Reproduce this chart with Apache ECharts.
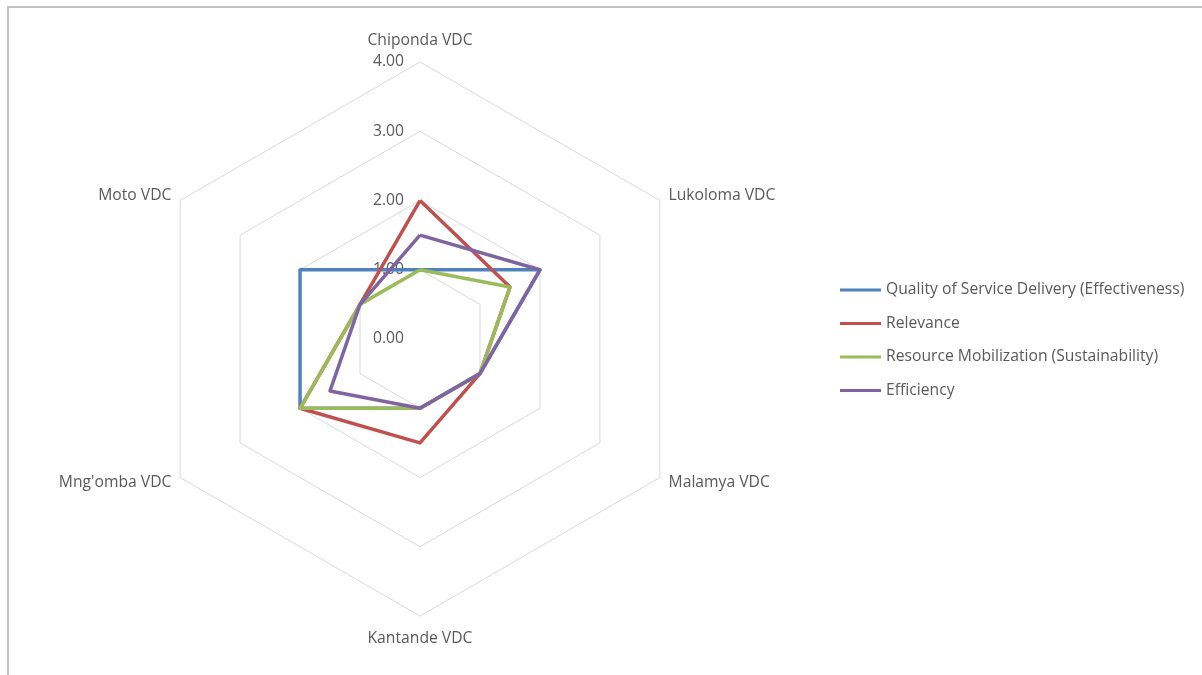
<!DOCTYPE html>
<html>
<head>
<meta charset="utf-8">
<title>VDC Assessment Radar</title>
<script src="https://cdn.jsdelivr.net/npm/echarts@6/dist/echarts.min.js"></script>
<style>
  html, body { margin: 0; padding: 0; background: #ffffff; }
  #chart { width: 1202px; height: 675px; }
</style>
</head>
<body>
<div id="chart"></div>
<script>
// Villages, listed clockwise from the top
const categories = ['Chiponda VDC', 'Lukoloma VDC', 'Malamya VDC', 'Kantande VDC', "Mng'omba VDC", 'Moto VDC'];

const seriesNames = [
  'Quality of Service Delivery (Effectiveness)',
  'Relevance',
  'Resource Mobilization (Sustainability)',
  'Efficiency'
];

// Scores per village, same order as categories
const qualityScores    = [1.0, 2.0, 1.0, 1.0, 2.0, 2.0];
const relevanceScores  = [2.0, 1.5, 1.0, 1.5, 2.0, 1.0];
const resourceScores   = [1.0, 1.5, 1.0, 1.0, 2.0, 1.0];
const efficiencyScores = [1.5, 2.0, 1.0, 1.0, 1.5, 1.0];

const scaleMin = 0;
const scaleMax = 4;
const tickLabels = ['0.00', '1.00', '2.00', '3.00', '4.00'];

const palette = ['#4F81BD', '#C0504D', '#9BBB59', '#8064A2'];
const textColor = '#595959';
const fontFamily = '"Open Sans", "Noto Sans", sans-serif';
const fontSize = 15.7;

// ECharts lays radar axes out counter-clockwise; walk the categories in reverse
// after the first so they read clockwise around the web.
const order = [0, 5, 4, 3, 2, 1];

const indicators = order.map(function (idx, k) {
  const ind = { name: categories[idx], min: scaleMin, max: scaleMax };
  // the top and bottom names sit a little further out than the slanted ones
  ind.nameGap = k === 0 ? 13 : (k === 3 ? 15 : 10);
  if (k === 0) {
    ind.axisLabel = {
      show: true,
      margin: 16,
      padding: [4, 0, 0, 0],
      color: textColor,
      fontSize: fontSize,
      fontFamily: fontFamily,
      formatter: function (v) {
        const i = Math.round((v - scaleMin) / ((scaleMax - scaleMin) / (tickLabels.length - 1)));
        return tickLabels[i] !== undefined ? tickLabels[i] : v.toFixed(2);
      }
    };
  }
  return ind;
});

const allScores = [qualityScores, relevanceScores, resourceScores, efficiencyScores];

const chart = echarts.init(document.getElementById('chart'), null, { renderer: 'canvas' });

chart.setOption({
  animation: false,
  backgroundColor: '#ffffff',
  color: palette,
  graphic: [
    // thin grey frame along the top and left edges
    { type: 'line', shape: { x1: 7, y1: 7, x2: 1202, y2: 7 }, style: { stroke: '#c3c3c3', lineWidth: 2 }, z: 100 },
    { type: 'line', shape: { x1: 8, y1: 6, x2: 8, y2: 675 }, style: { stroke: '#c3c3c3', lineWidth: 2 }, z: 100 }
  ],
  legend: {
    orient: 'vertical',
    left: 835,
    top: 277,
    icon: 'rect',
    itemWidth: 41,
    itemHeight: 3,
    itemGap: 17.5,
    data: seriesNames,
    textStyle: {
      color: textColor,
      fontSize: fontSize,
      fontFamily: fontFamily,
      lineHeight: 16
    }
  },
  radar: {
    center: [420, 339],
    radius: 277,
    startAngle: 90,
    splitNumber: 4,
    shape: 'polygon',
    indicator: indicators,
    axisName: {
      color: textColor,
      fontSize: fontSize,
      fontFamily: fontFamily
    },
    axisLine: { show: false },
    axisTick: { show: false },
    axisLabel: { show: false },
    splitLine: { lineStyle: { color: '#d9d9d9', width: 1 } },
    splitArea: { show: false }
  },
  series: [{
    type: 'radar',
    symbol: 'none',
    data: allScores.map(function (scores, s) {
      return {
        name: seriesNames[s],
        value: order.map(function (idx) { return scores[idx]; }),
        lineStyle: { color: palette[s], width: 3.5 },
        itemStyle: { color: palette[s] }
      };
    })
  }]
});
</script>
</body>
</html>
